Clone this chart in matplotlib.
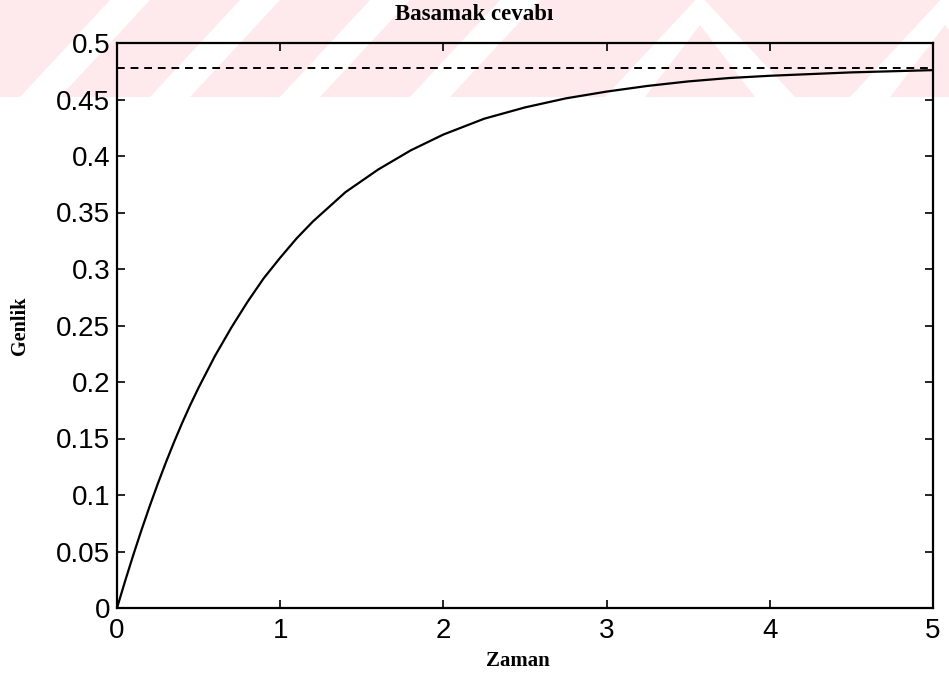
import matplotlib
matplotlib.use("Agg")
import matplotlib.pyplot as plt
from matplotlib.patches import Polygon, Rectangle

# Data
t = [0.0, 0.05, 0.1, 0.15, 0.2, 0.25, 0.3, 0.35, 0.4, 0.45, 0.5, 0.6, 0.7,
     0.8, 0.9, 1.0, 1.1, 1.2, 1.3, 1.4, 1.5, 1.6, 1.8, 2.0, 2.25, 2.5, 2.75,
     3.0, 3.25, 3.5, 3.75, 4.0, 4.5, 5.0]
y = [0.0, 0.024, 0.047, 0.069, 0.090, 0.110, 0.129, 0.147, 0.164, 0.180,
     0.195, 0.223, 0.248, 0.271, 0.292, 0.310, 0.327, 0.342, 0.355, 0.368,
     0.378, 0.388, 0.405, 0.419, 0.433, 0.443, 0.451, 0.457, 0.462, 0.466,
     0.469, 0.471, 0.474, 0.476]
final_value = 0.478
xticks = [0, 1, 2, 3, 4, 5]
yticks = [0, 0.05, 0.1, 0.15, 0.2, 0.25, 0.3, 0.35, 0.4, 0.45, 0.5]
ytick_labels = ["0", "0.05", "0.1", "0.15", "0.2", "0.25", "0.3", "0.35", "0.4", "0.45", "0.5"]
title = "Basamak cevabı"
xlabel = "Zaman"
ylabel = "Genlik"

W, H = 949, 678
fig = plt.figure(figsize=(W / 100, H / 100), dpi=100)
fig.patch.set_facecolor("white")

def fy(py):
    return 1 - py / H
def fx(px):
    return px / W

# Watermark-like pink band at the top
pink = (0.995, 0.915, 0.925)
band_top, band_bot = 0, 97
fig.patches.append(Rectangle((0, fy(band_bot)), 1, fy(band_top) - fy(band_bot),
                             transform=fig.transFigure, facecolor=pink,
                             edgecolor="none", zorder=-2))
for x0 in [20, 150, 280, 410]:
    pts = [(fx(x0), fy(band_bot)), (fx(x0 + 40), fy(band_bot)),
           (fx(x0 + 130), fy(band_top)), (fx(x0 + 90), fy(band_top))]
    fig.patches.append(Polygon(pts, closed=True, transform=fig.transFigure,
                               facecolor="white", edgecolor="none", zorder=-1))
for xc in [700, 945]:
    pts = [(fx(xc - 95), fy(band_bot)), (fx(xc - 55), fy(band_bot)),
           (fx(xc), fy(25)), (fx(xc + 55), fy(band_bot)),
           (fx(xc + 95), fy(band_bot)), (fx(xc), fy(band_top - 5))]
    fig.patches.append(Polygon(pts, closed=True, transform=fig.transFigure,
                               facecolor="white", edgecolor="none", zorder=-1))

ax = fig.add_axes([117 / W, 1 - 608 / H, (933 - 117) / W, (608 - 43) / H])
ax.set_facecolor("none")

ax.plot(t, y, color="black", linewidth=1.6, zorder=3)
ax.axhline(final_value, color="black", linestyle=(0, (4, 3)), linewidth=1.4, zorder=3)

ax.set_xlim(0, 5)
ax.set_ylim(0, 0.5)
ax.set_xticks(xticks)
ax.set_xticklabels([str(v) for v in xticks])
ax.set_yticks(yticks)
ax.set_yticklabels(ytick_labels)

for s in ax.spines.values():
    s.set_linewidth(1.6)
    s.set_color("black")

ax.tick_params(direction="in", top=True, right=True, length=6, width=1.2,
               labelsize=20, colors="black")
ax.tick_params(axis="x", pad=7)
ax.tick_params(axis="y", pad=5)
for lab in ax.get_xticklabels() + ax.get_yticklabels():
    lab.set_fontfamily("Liberation Sans")

fig.text(0.5, fy(15), title, ha="center", va="center",
         fontfamily="Liberation Serif", fontsize=16.5, fontweight="bold")
fig.text(fx(518), fy(661), xlabel, ha="center", va="center",
         fontfamily="Liberation Serif", fontsize=15, fontweight="bold")
fig.text(fx(20), fy(326), ylabel, ha="center", va="center", rotation=90,
         fontfamily="Liberation Serif", fontsize=14.5, fontweight="bold")

fig.savefig("out.png", dpi=100)
